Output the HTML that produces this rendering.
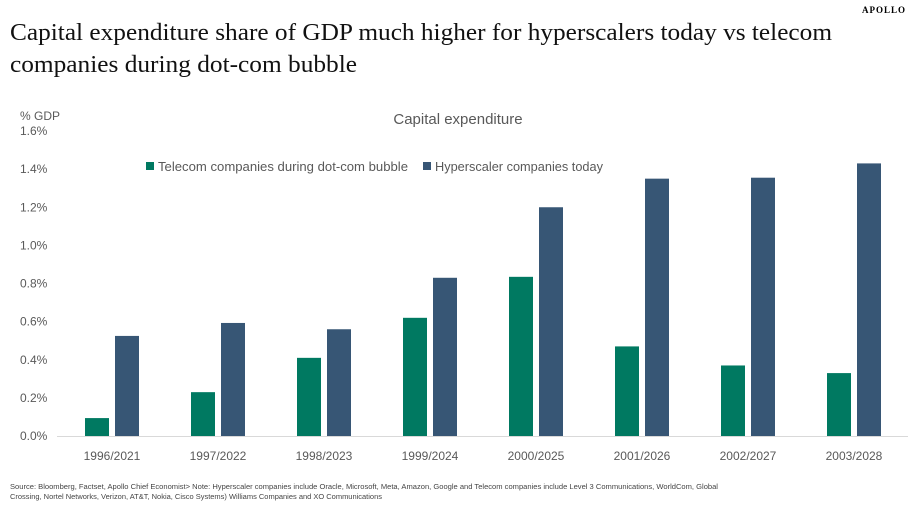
<!DOCTYPE html>
<html><head><meta charset="utf-8"><style>
html,body{margin:0;padding:0;background:#fff;}
svg{display:block;}
</style></head><body>
<svg id="chart" width="912" height="508" xmlns="http://www.w3.org/2000/svg" font-family="Liberation Sans, sans-serif">
<text x="906" y="13" text-anchor="end" font-family="Liberation Serif, serif" font-weight="bold" font-size="9" letter-spacing="1">APOLLO</text>
<text x="10" y="40" font-family="Liberation Serif, serif" font-size="24" textLength="822" lengthAdjust="spacingAndGlyphs" fill="#111">Capital expenditure share of GDP much higher for hyperscalers today vs telecom</text>
<text x="10" y="72" font-family="Liberation Serif, serif" font-size="24" textLength="347" lengthAdjust="spacingAndGlyphs" fill="#111">companies during dot-com bubble</text>
<text x="20" y="120" font-size="12" fill="#595959">% GDP</text>
<text x="458" y="124" text-anchor="middle" font-size="15" fill="#595959">Capital expenditure</text>
<g>
<rect x="146" y="162" width="8" height="8" fill="#007961"/>
<text x="158" y="171" font-size="13" fill="#595959" textLength="250" lengthAdjust="spacingAndGlyphs">Telecom companies during dot-com bubble</text>
<rect x="423" y="162" width="8" height="8" fill="#375675"/>
<text x="435" y="171" font-size="13" fill="#595959" textLength="168" lengthAdjust="spacingAndGlyphs">Hyperscaler companies today</text>
</g>
<g id="yticks"></g>
<g id="bars"></g>
<g id="xlabels"></g>
<line x1="57" y1="436.5" x2="908" y2="436.5" stroke="#d9d9d9" stroke-width="1"/>
<text x="10" y="489" font-size="7" fill="#444" textLength="708" lengthAdjust="spacingAndGlyphs">Source: Bloomberg, Factset, Apollo Chief Economist&gt; Note: Hyperscaler companies include Oracle, Microsoft, Meta, Amazon, Google and Telecom companies include  Level 3 Communications, WorldCom, Global</text>
<text x="10" y="499" font-size="7" fill="#444" textLength="372" lengthAdjust="spacingAndGlyphs">Crossing, Nortel Networks, Verizon, AT&amp;T, Nokia, Cisco Systems) Williams Companies and XO Communications</text>
</svg>
<script>
const categories = ["1996/2021","1997/2022","1998/2023","1999/2024","2000/2025","2001/2026","2002/2027","2003/2028"];
const telecomValues = [0.094,0.23,0.41,0.62,0.835,0.47,0.37,0.33];
const hyperscalerValues = [0.525,0.593,0.56,0.83,1.20,1.35,1.355,1.43];
const yTicks = [0,0.2,0.4,0.6,0.8,1.0,1.2,1.4,1.6];
const yTickLabels = ["0.0%","0.2%","0.4%","0.6%","0.8%","1.0%","1.2%","1.4%","1.6%"];

const NS = "http://www.w3.org/2000/svg";
const y0 = 436, yTop = 131, yMax = 1.6;
const xStart = 59, band = 106;
function yScale(v){ return y0 - (v / yMax) * (y0 - yTop); }
function xCenter(i){ return xStart + band * (i + 0.5); }

const yt = document.getElementById('yticks');
yTicks.forEach((t, i) => {
  const el = document.createElementNS(NS, 'text');
  
  
  el.setAttribute('x', 20);
  el.setAttribute('y', yScale(t) + 4);
  el.setAttribute('font-size', 12);
  el.setAttribute('fill', '#595959');
  el.textContent = yTickLabels[i];
  yt.appendChild(el);
});

const bars = document.getElementById('bars');
const xl = document.getElementById('xlabels');
categories.forEach((c, i) => {
  const cx = xCenter(i);
  const r1 = document.createElementNS(NS, 'rect');
  
  
  r1.setAttribute('x', cx - 27);
  r1.setAttribute('y', yScale(telecomValues[i]));
  r1.setAttribute('width', 24);
  r1.setAttribute('height', y0 - yScale(telecomValues[i]));
  r1.setAttribute('fill', '#007961');
  bars.appendChild(r1);
  const r2 = document.createElementNS(NS, 'rect');
  
  
  r2.setAttribute('x', cx + 3);
  r2.setAttribute('y', yScale(hyperscalerValues[i]));
  r2.setAttribute('width', 24);
  r2.setAttribute('height', y0 - yScale(hyperscalerValues[i]));
  r2.setAttribute('fill', '#375675');
  bars.appendChild(r2);
  const t = document.createElementNS(NS, 'text');
  
  
  t.setAttribute('x', cx);
  t.setAttribute('y', 460);
  t.setAttribute('text-anchor', 'middle');
  t.setAttribute('font-size', 12);
  t.setAttribute('fill', '#595959');
  t.textContent = c;
  xl.appendChild(t);
});
</script>
</body></html>
